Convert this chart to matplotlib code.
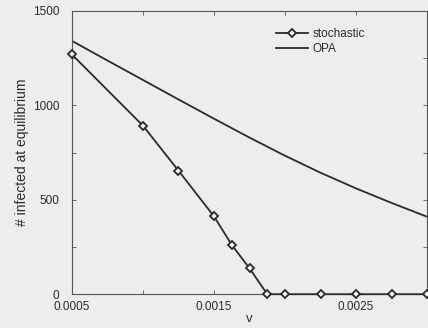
import matplotlib
matplotlib.use('Agg')
import matplotlib.pyplot as plt
from matplotlib.ticker import MultipleLocator, FixedLocator, FixedFormatter

# stochastic simulation
stoch_v = [0.0005, 0.001, 0.00125, 0.0015, 0.001625, 0.00175, 0.001875,
           0.002, 0.00225, 0.0025, 0.00275, 0.003]
stoch_n = [1269, 892, 654, 412, 261, 137, 0, 0, 0, 0, 0, 0]

# OPA curve
opa_v = [0.0005, 0.00075, 0.001, 0.00125, 0.0015, 0.00175, 0.002,
         0.00225, 0.0025, 0.00275, 0.003]
opa_n = [1341, 1237, 1134, 1031, 929, 829, 733, 643, 560, 483, 410]

xtick_vals = [0.0005, 0.0015, 0.0025]
xtick_labels = ['0.0005', '0.0015', '0.0025']
ytick_vals = [0, 500, 1000, 1500]

bg = '#ededed'
ink = '#2b2b2b'
plt.rcParams['font.family'] = ['Liberation Sans', 'DejaVu Sans']

fig = plt.figure(figsize=(4.28, 3.28), dpi=100, facecolor=bg)
ax = fig.add_axes([0.168, 0.103, 0.83, 0.864], facecolor=bg)

ax.plot(stoch_v, stoch_n, color=ink, lw=1.3, marker='D', ms=4.3,
        mfc='#f2f2f2', mec=ink, mew=1.3, label='stochastic', clip_on=False, zorder=3)
ax.plot(opa_v, opa_n, color=ink, lw=1.3, label='OPA')

ax.set_xlim(0.0005, 0.003)
ax.set_ylim(0, 1500)

ax.xaxis.set_major_locator(FixedLocator(xtick_vals))
ax.xaxis.set_major_formatter(FixedFormatter(xtick_labels))
ax.xaxis.set_minor_locator(MultipleLocator(0.0005))
ax.yaxis.set_major_locator(FixedLocator(ytick_vals))
ax.yaxis.set_minor_locator(MultipleLocator(250))

ax.tick_params(which='both', direction='in', top=True, right=True,
               color='#555555', width=0.6, labelsize=8.5, labelcolor=ink)
ax.tick_params(which='major', length=3)
ax.tick_params(which='minor', length=3)
ax.tick_params(axis='y', pad=9)
ax.tick_params(axis='x', pad=5)

for s in ax.spines.values():
    s.set_color('#555555')
    s.set_linewidth(0.8)

ax.set_xlabel('v', fontsize=9.5, color=ink, labelpad=0)
ax.set_ylabel('# infected at equilibrium', fontsize=10, color=ink, labelpad=3)

leg = ax.legend(loc='upper left', bbox_to_anchor=(0.575, 0.94), frameon=False,
                fontsize=8.5, handlelength=2.7, handletextpad=0.4,
                labelspacing=0.3, borderpad=0, borderaxespad=0)
for t in leg.get_texts():
    t.set_color(ink)

fig.savefig('out.png', dpi=100, facecolor=bg)
